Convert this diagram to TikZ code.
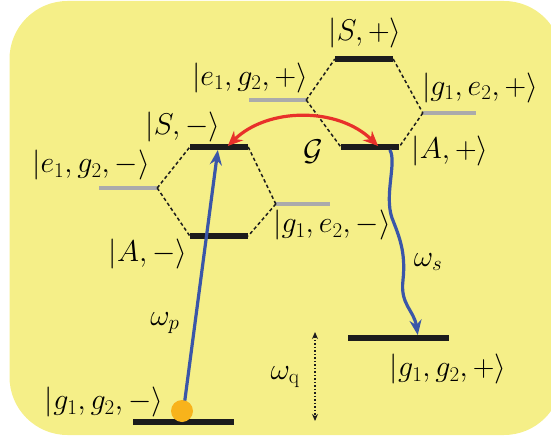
\RequirePackage{fix-cm}
\documentclass[tikz,border=0pt]{standalone}
\usetikzlibrary{arrows.meta,calc}
\definecolor{bgyellow}{HTML}{F5EF88}
\definecolor{pblue}{HTML}{3A56A8}
\definecolor{pred}{HTML}{E8302A}
\definecolor{porange}{HTML}{F8B31B}
\definecolor{pgray}{HTML}{ABABAB}
\definecolor{pblack}{HTML}{1C1C1C}
\begin{document}
\begin{tikzpicture}[x=1pt,y=-1pt,
  lvl/.style={fill=pblack,inner sep=0pt,minimum height=5.5pt},
  glvl/.style={fill=pgray,inner sep=0pt,minimum height=4pt},
  lbl/.style={inner sep=0pt,font=\fontsize{30}{36}\selectfont},
  hexline/.style={line width=1.5pt,dash pattern=on 3.4pt off 2.6pt,pblack},
  bluearrow/.style={pblue,line width=3.2pt,-{Stealth[length=15pt,width=12pt]}},
  redarrow/.style={pred,line width=3.2pt,{Stealth[length=15pt,width=13pt]}-{Stealth[length=15pt,width=13pt]}}]
\useasboundingbox (0,0) rectangle (551,441);
\begin{scope}
\clip (0,0) rectangle (551,441);
\fill[bgyellow] (9.5,1) [rounded corners=58pt] rectangle (562,435);
\end{scope}
% levels
\node[lvl,minimum width=58pt] (Sp) at (364,59) {};
\node[glvl,minimum width=57pt] (EGp) at (277.5,100) {};
\node[glvl,minimum width=53pt] (GEp) at (449.5,113) {};
\node[lvl,minimum width=58pt] (Ap) at (370,147) {};
\node[lvl,minimum width=58pt] (Sm) at (219,147) {};
\node[glvl,minimum width=58pt] (EGm) at (128,188) {};
\node[glvl,minimum width=54pt] (GEm) at (303,204) {};
\node[lvl,minimum width=58pt] (Am) at (219,236) {};
\node[lvl,minimum width=101pt] (GGp) at (398.5,338) {};
\node[lvl,minimum width=101pt] (GGm) at (183.5,422) {};
% hexagons
\draw[hexline] (EGp.east) -- (Sp.west);
\draw[hexline] (Sp.east) -- (GEp.west);
\draw[hexline] (EGp.east) -- (Ap.west);
\draw[hexline] (GEp.west) -- (Ap.east);
\draw[hexline] (EGm.east) -- (Sm.west);
\draw[hexline] (Sm.east) -- (GEm.west);
\draw[hexline] (EGm.east) -- (Am.west);
\draw[hexline] (GEm.west) -- (Am.east);
% labels
\node[lbl] (tSp) at (365,33) {$|S,+\rangle$};
\node[lbl] (tEGp) at (250,78) {$|e_1,g_2,+\rangle$};
\node[lbl] (tGEp) at (480,88) {$|g_1,e_2,+\rangle$};
\node[lbl] (tSm) at (183,127) {$|S,-\rangle$};
\node[lbl] (tG) at (313,152) {$\mathcal{G}$};
\node[lbl] (tAp) at (450,151) {$|A,+\rangle$};
\node[lbl] (tEGm) at (91,165) {$|e_1,g_2,-\rangle$};
\node[lbl] (tGEm) at (332,225) {$|g_1,e_2,-\rangle$};
\node[lbl] (tAm) at (148,254) {$|A,-\rangle$};
\node[lbl] (tws) at (428,262) {$\omega_s$};
\node[lbl] (twp) at (165,323) {$\omega_p$};
\node[lbl] (twq) at (285,377) {$\omega_{\mathrm{q}}$};
\node[lbl] (tGGp) at (448,369) {$|g_1,g_2,+\rangle$};
\node[lbl] (tGGm) at (104,402) {$|g_1,g_2,-\rangle$};
% pump arrow
\coordinate (pstart) at ($(GGm.west)!0.485!(GGm.east)$);
\coordinate (pend) at ($(Sm.south west)!0.48!(Sm.south east)$);
\draw[bluearrow] (pstart) -- (pend);
\node[circle,fill=porange,inner sep=0pt,minimum size=22pt] (dot) at (182,411) {};
% emission wavy arrow
\coordinate (wstart) at ($(Ap.south west)!0.84!(Ap.south east)$);
\coordinate (wend) at ($(GGp.north west)!0.69!(GGp.north east)$);
\draw[bluearrow] (wstart) .. controls (397,162) and (384,195) .. (392,218)
  .. controls (399,236) and (406,252) .. (403,280)
  .. controls (400,305) and (414,310) .. (wend);
% coupling arrow
\coordinate (rl) at ($(Sm.north west)!0.65!(Sm.north east)$);
\coordinate (rr) at ($(Ap.north west)!0.64!(Ap.north east)$);
\draw[redarrow] ([yshift=-2pt]rl) .. controls (268,107) and (338,107) .. ([yshift=-2pt]rr);
% omega_q scale
\coordinate (qtop) at (315,332);
\coordinate (qbot) at (315,421);
\draw[pblack,line width=1.5pt,dotted,{Stealth[length=7pt,width=6pt]}-{Stealth[length=7pt,width=6pt]}] (qtop) -- (qbot);
\end{tikzpicture}
\end{document}
